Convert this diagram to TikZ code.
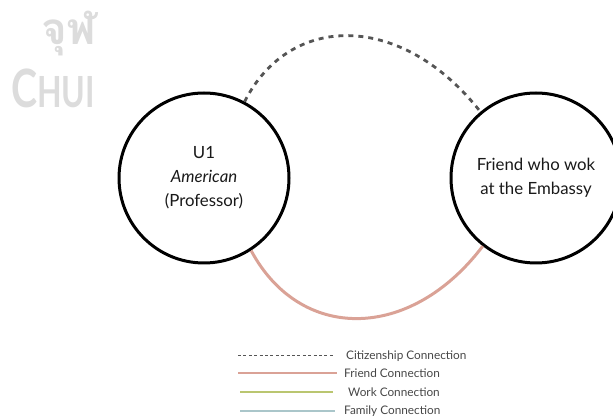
\documentclass[tikz,border=0pt]{standalone}
\usepackage{fontspec}
\setmainfont{Lato}
\newfontfamily\thaifont[Script=Thai]{Loma}
\usetikzlibrary{calc}
\definecolor{friendpink}{RGB}{218,162,150}
\definecolor{workgreen}{RGB}{186,198,112}
\definecolor{familyblue}{RGB}{170,198,202}
\definecolor{citgray}{RGB}{85,85,85}
\definecolor{wmgray}{RGB}{220,220,220}
\definecolor{legtext}{RGB}{70,70,70}
\tikzset{
  person/.style={circle, draw=black, line width=3pt, minimum size=170pt, inner sep=0pt,
    align=center, font=\fontsize{16.8}{24}\selectfont, text=black!90},
  citline/.style={draw=citgray, line width=2.8pt, dash pattern=on 5pt off 5pt},
  friendline/.style={draw=friendpink, line width=3pt},
  legtxt/.style={anchor=west, inner sep=0pt, font=\fontsize{11.8}{13}\selectfont, text=legtext},
  legcit/.style={draw=citgray, line width=1pt, dash pattern=on 3pt off 2.4pt},
  legfriend/.style={draw=friendpink, line width=2pt},
  legwork/.style={draw=workgreen, line width=2pt},
  legfamily/.style={draw=familyblue, line width=2pt},
  wmark/.style={text=wmgray, inner sep=0pt}
}
\begin{document}
\begin{tikzpicture}[x=1pt,y=-1pt]
\useasboundingbox (0,0) rectangle (613,419);
% watermark
\node[wmark, font=\thaifont\bfseries\fontsize{44}{44}\selectfont] (wmthai) at (69,34) {จุฬ};
\node[wmark, font=\bfseries, xscale=0.82, yscale=1.1] (wmchui) at (53,88) {\fontsize{48}{48}\selectfont C\fontsize{39}{39}\selectfont HUI};
% persons
\node[person] (u1) at (204,178) {U1\\\textit{American}\\(Professor)};
\node[person] (fr) at (536,178) {Friend who wok\\at the Embassy};
% connections
\draw[citline] (u1.62) .. controls (290,12) and (402,12) .. (fr.130);
\draw[friendline] (u1.-57) .. controls (300,342) and (410,342) .. (fr.-128);
% legend
\coordinate (c1a) at (238,356); \coordinate (c1b) at (333,356);
\coordinate (c2a) at (238,373); \coordinate (c2b) at (337,373);
\coordinate (c3a) at (240,392); \coordinate (c3b) at (333,392);
\coordinate (c4a) at (240,411); \coordinate (c4b) at (335,411);
\draw[legcit] (c1a) -- (c1b);
\draw[legfriend] (c2a) -- (c2b);
\draw[legwork] (c3a) -- (c3b);
\draw[legfamily] (c4a) -- (c4b);
\node[legtxt] (l1) at (346,356) {Citizenship Connection};
\node[legtxt] (l2) at (344,373) {Friend Connection};
\node[legtxt] (l3) at (348,392) {Work Connection};
\node[legtxt] (l4) at (344,411) {Family Connection};
\end{tikzpicture}
\end{document}
